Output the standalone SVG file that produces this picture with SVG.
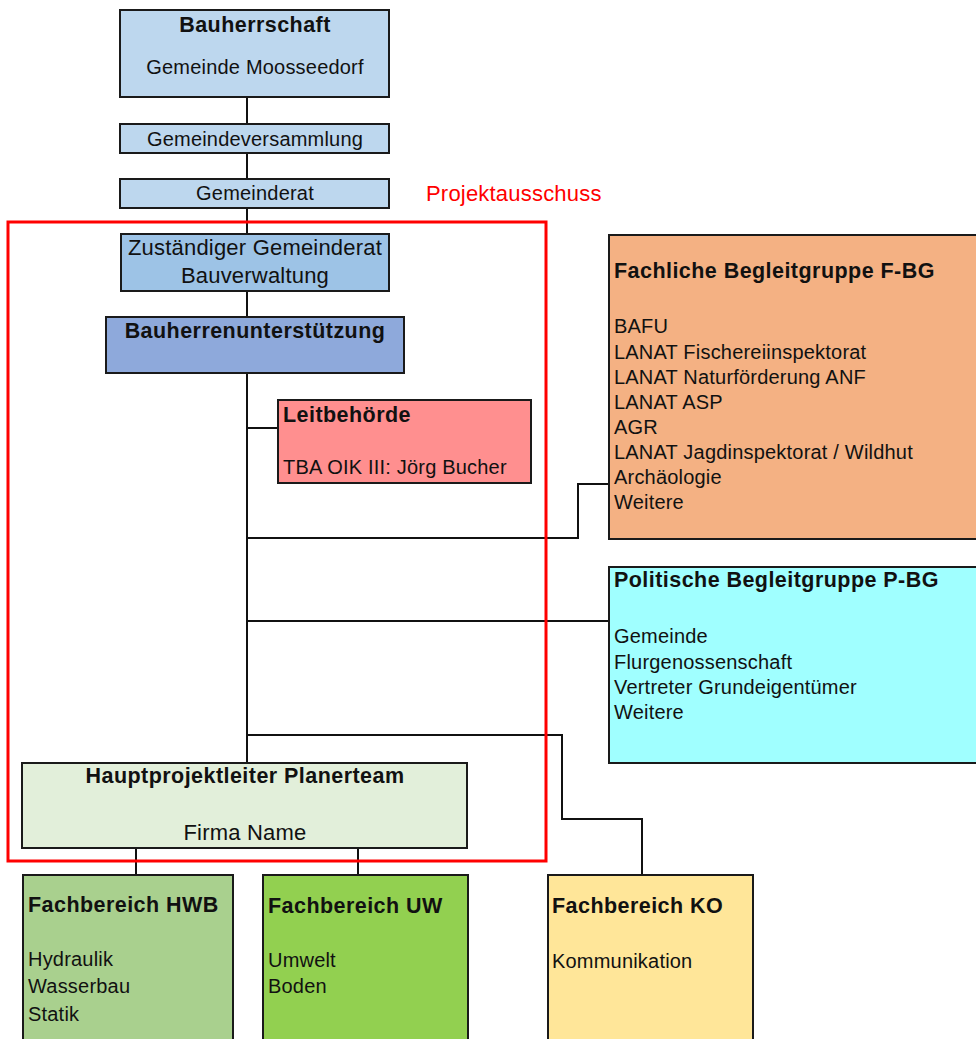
<svg xmlns="http://www.w3.org/2000/svg" width="976" height="1039" viewBox="0 0 976 1039">
<style>
.box{stroke:#1a1a1a;stroke-width:2}
.con{fill:none;stroke:#111;stroke-width:2}
text{font-family:"Liberation Sans",Arial,sans-serif;fill:#111}
.r{font-size:20px;letter-spacing:0.2px}
.b{font-size:21.5px;font-weight:bold;letter-spacing:0.45px}
.l{font-size:22px;letter-spacing:0.2px}
.m{text-anchor:middle}
</style>
<rect width="976" height="1039" fill="#fff"/>
<g id="connectors">
<path class="con" d="M247,97 V763"/>
<path class="con" d="M247,428 H278"/>
<path class="con" d="M247,538 H578 V484 H609"/>
<path class="con" d="M247,621 H609"/>
<path class="con" d="M247,735 H562 V819 H642 V875"/>
<path class="con" d="M136,848 V875"/>
<path class="con" d="M358,848 V875"/>
</g>
<g id="bauherrschaft">
<rect class="box" x="120" y="10" width="269" height="87" fill="#BDD7EE"/>
<text class="b m" x="255" y="32">Bauherrschaft</text>
<text class="r m" x="255" y="74">Gemeinde Moosseedorf</text>
</g>
<g id="gemeindeversammlung">
<rect class="box" x="120" y="124" width="269" height="29" fill="#BDD7EE"/>
<text class="r m" x="255" y="146">Gemeindeversammlung</text>
</g>
<g id="gemeinderat">
<rect class="box" x="120" y="179" width="269" height="29" fill="#BDD7EE"/>
<text class="r m" x="255" y="200">Gemeinderat</text>
</g>
<g id="zustaendiger-gemeinderat">
<rect class="box" x="121" y="234" width="268" height="57" fill="#9DC3E6"/>
<text class="l m" x="255" y="255">Zuständiger Gemeinderat</text>
<text class="l m" x="255" y="283">Bauverwaltung</text>
</g>
<g id="bauherrenunterstuetzung">
<rect class="box" x="106" y="317" width="298" height="56" fill="#8EA9DB"/>
<text class="b m" x="255" y="338">Bauherrenunterstützung</text>
</g>
<g id="leitbehoerde">
<rect class="box" x="278" y="400" width="253" height="83" fill="#FF8F8F"/>
<text class="b" x="283" y="422">Leitbehörde</text>
<text class="r" x="283" y="474">TBA OIK III: Jörg Bucher</text>
</g>
<g id="fachliche-begleitgruppe">
<rect class="box" x="609" y="235" width="380" height="304" fill="#F4B183"/>
<text class="b" x="614" y="278">Fachliche Begleitgruppe F-BG</text>
<text class="r" x="614" y="333">BAFU</text>
<text class="r" x="614" y="359">LANAT Fischereiinspektorat</text>
<text class="r" x="614" y="384">LANAT Naturförderung ANF</text>
<text class="r" x="614" y="409">LANAT ASP</text>
<text class="r" x="614" y="434">AGR</text>
<text class="r" x="614" y="459">LANAT Jagdinspektorat / Wildhut</text>
<text class="r" x="614" y="484">Archäologie</text>
<text class="r" x="614" y="509">Weitere</text>
</g>
<g id="politische-begleitgruppe">
<rect class="box" x="609" y="567" width="380" height="196" fill="#A0FFFF"/>
<text class="b" x="614" y="587">Politische Begleitgruppe P-BG</text>
<text class="r" x="614" y="643">Gemeinde</text>
<text class="r" x="614" y="669">Flurgenossenschaft</text>
<text class="r" x="614" y="694">Vertreter Grundeigentümer</text>
<text class="r" x="614" y="719">Weitere</text>
</g>
<g id="hauptprojektleiter">
<rect class="box" x="22" y="763" width="445" height="85" fill="#E2EFDA"/>
<text class="b m" x="245" y="783">Hauptprojektleiter Planerteam</text>
<text class="l m" x="245" y="840">Firma Name</text>
</g>
<g id="fachbereich-hwb">
<rect class="box" x="23" y="875" width="210" height="200" fill="#A9D08E"/>
<text class="b" x="28" y="912">Fachbereich HWB</text>
<text class="r" x="28" y="966">Hydraulik</text>
<text class="r" x="28" y="993">Wasserbau</text>
<text class="r" x="28" y="1021">Statik</text>
</g>
<g id="fachbereich-uw">
<rect class="box" x="263" y="875" width="205" height="200" fill="#92D050"/>
<text class="b" x="268" y="913">Fachbereich UW</text>
<text class="r" x="268" y="967">Umwelt</text>
<text class="r" x="268" y="993">Boden</text>
</g>
<g id="fachbereich-ko">
<rect class="box" x="548" y="875" width="205" height="200" fill="#FFE699"/>
<text class="b" x="552" y="913">Fachbereich KO</text>
<text class="r" x="552" y="968">Kommunikation</text>
</g>
<g id="projektausschuss">
<rect x="8" y="222" width="538" height="639" fill="none" stroke="#FF0000" stroke-width="3"/>
<text class="l" x="426" y="201" style="fill:#FF0000">Projektausschuss</text>
</g>
</svg>
